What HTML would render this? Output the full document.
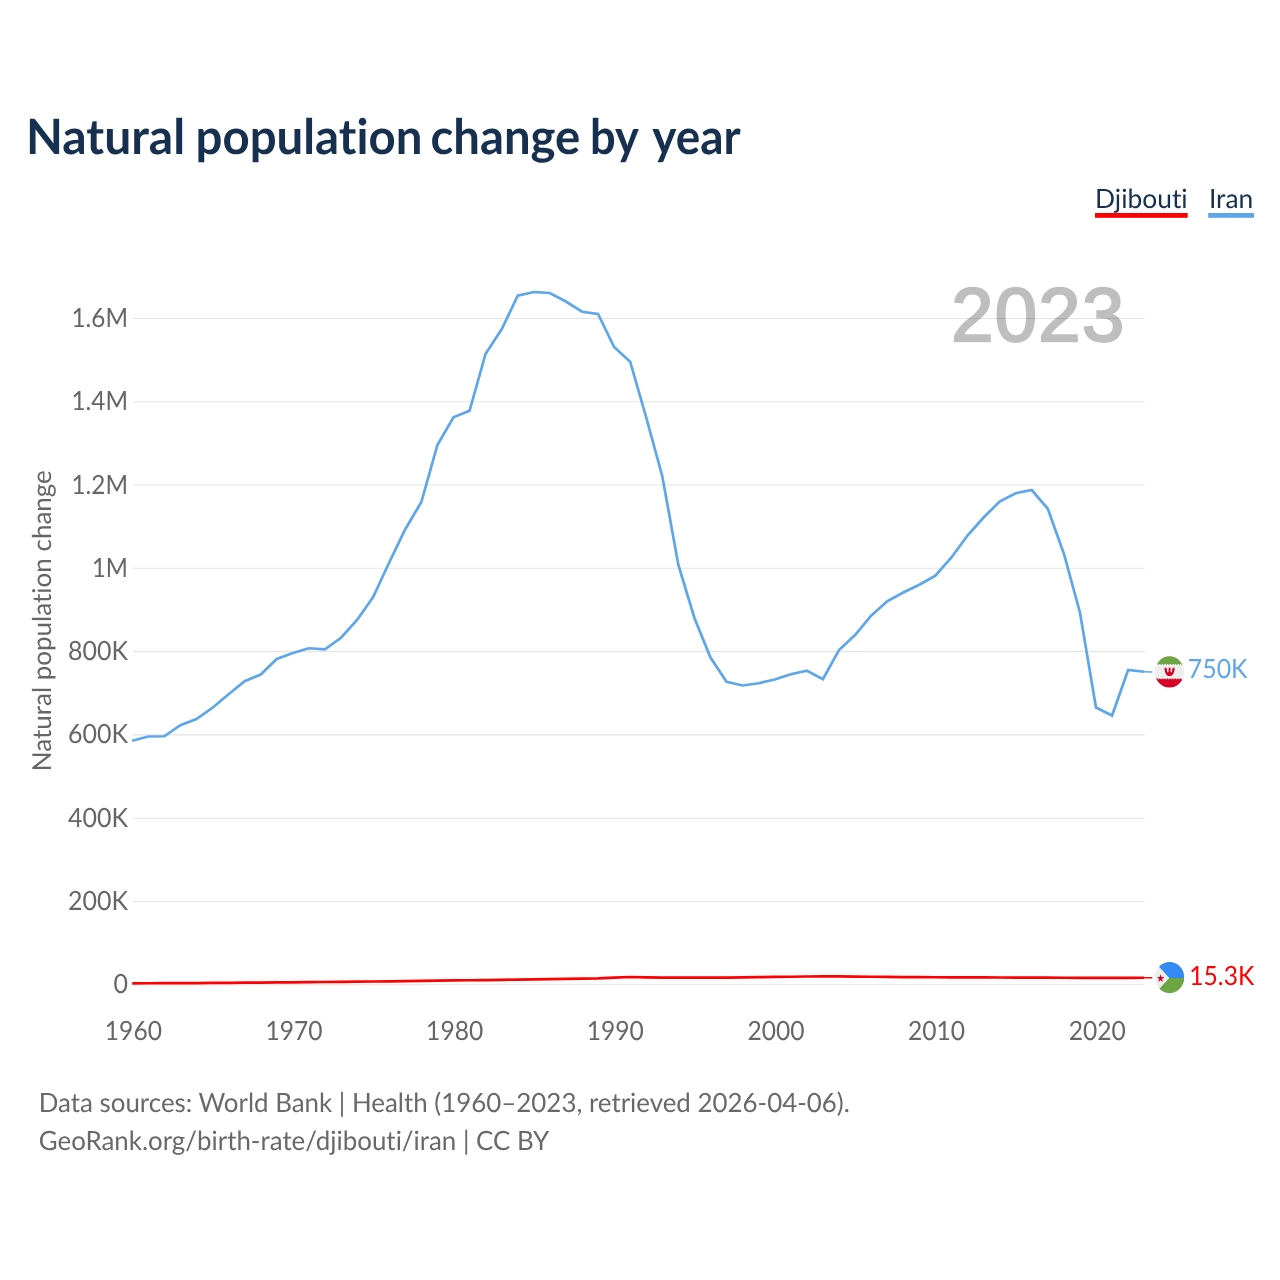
<!DOCTYPE html>
<html lang="en">
<head>
<meta charset="utf-8">
<title>Natural population change by year</title>
<style>
html,body{margin:0;padding:0;background:#fff;}
body{width:1280px;height:1280px;overflow:hidden;font-family:Lato,"Liberation Sans",sans-serif;}
svg{display:block;}
svg text{font-family:Lato,"Liberation Sans",sans-serif;font-variant-ligatures:none;text-rendering:geometricPrecision;}
.title{font-size:47px;font-weight:700;fill:#17304f;}
.tick{font-size:25px;fill:#666666;}
.grid line{stroke:#e5e5e5;stroke-width:1.05;}
.legend{font-size:26.4px;fill:#17304f;}
.src{font-size:25.9px;fill:#696969;}
.year{font-family:"Liberation Sans",sans-serif;font-weight:400;font-size:76px;letter-spacing:1.3px;fill:#000;stroke:#000;stroke-width:2.3px;stroke-linejoin:miter;opacity:.25;}
.ylab{font-size:26px;fill:#666666;}
.vblue{font-size:24.9px;fill:#5ea6ea;}
.vred{font-size:24.6px;fill:#ff0000;}
.series{fill:none;stroke-width:2.7;stroke-linejoin:miter;stroke-linecap:butt;}
</style>
</head>
<body>
<svg width="1280" height="1280" viewBox="0 0 1280 1280">
<rect width="1280" height="1280" fill="#fff"/>
<!-- title -->
<text id="t1" class="title" textLength="159.2" lengthAdjust="spacingAndGlyphs" transform="translate(25.90 154.00) scale(1 1.039)">Natural</text>
<text id="t2" class="title" textLength="226.9" lengthAdjust="spacingAndGlyphs" transform="translate(195.50 154.00) scale(1 1.039)">population</text>
<text id="t3" class="title" textLength="149.7" lengthAdjust="spacingAndGlyphs" transform="translate(430.60 154.00) scale(1 1.039)">change</text>
<text id="t4" class="title" textLength="48.9" lengthAdjust="spacingAndGlyphs" transform="translate(590.00 154.00) scale(1 1.039)">by</text>
<text id="t5" class="title" textLength="88.3" lengthAdjust="spacingAndGlyphs" transform="translate(652.20 154.00) scale(1 1.039)">year</text>

<!-- legend -->
<text id="t6" class="legend" textLength="92.7" lengthAdjust="spacingAndGlyphs" transform="translate(1095.00 208.00) scale(1 1.0045)">Djibouti</text>
<rect x="1095" y="213" width="92.7" height="4.8" fill="#ff0000"/>
<text id="t7" class="legend" textLength="44.4" lengthAdjust="spacingAndGlyphs" transform="translate(1208.90 208.00) scale(1 1.0045)">Iran</text>
<rect x="1208.2" y="213" width="45.8" height="4.8" fill="#5ea6ea"/>

<!-- gridlines -->
<g class="grid">
<line x1="132.7" x2="1144.7" y1="984.76" y2="984.76"/>
<line x1="132.7" x2="1144.7" y1="901.47" y2="901.47"/>
<line x1="132.7" x2="1144.7" y1="818.18" y2="818.18"/>
<line x1="132.7" x2="1144.7" y1="734.89" y2="734.89"/>
<line x1="132.7" x2="1144.7" y1="651.60" y2="651.60"/>
<line x1="132.7" x2="1144.7" y1="568.31" y2="568.31"/>
<line x1="132.7" x2="1144.7" y1="485.02" y2="485.02"/>
<line x1="132.7" x2="1144.7" y1="401.73" y2="401.73"/>
<line x1="132.7" x2="1144.7" y1="318.44" y2="318.44"/>
</g>
<!-- axis ticks -->
<text id="t8" class="tick" text-anchor="end" textLength="14.5" lengthAdjust="spacingAndGlyphs" transform="translate(128.00 993.00) scale(1 1.0607)">0</text>
<text id="t9" class="tick" text-anchor="end" textLength="60.1" lengthAdjust="spacingAndGlyphs" transform="translate(128.00 910.00) scale(1 1.0607)">200K</text>
<text id="t10" class="tick" text-anchor="end" textLength="60.1" lengthAdjust="spacingAndGlyphs" transform="translate(128.00 827.00) scale(1 1.0607)">400K</text>
<text id="t11" class="tick" text-anchor="end" textLength="60.1" lengthAdjust="spacingAndGlyphs" transform="translate(128.00 743.00) scale(1 1.0607)">600K</text>
<text id="t12" class="tick" text-anchor="end" textLength="60.1" lengthAdjust="spacingAndGlyphs" transform="translate(128.00 660.00) scale(1 1.0607)">800K</text>
<text id="t13" class="tick" text-anchor="end" textLength="36.0" lengthAdjust="spacingAndGlyphs" transform="translate(128.00 577.00) scale(1 1.0607)">1M</text>
<text id="t14" class="tick" text-anchor="end" textLength="56.5" lengthAdjust="spacingAndGlyphs" transform="translate(128.00 494.00) scale(1 1.0607)">1.2M</text>
<text id="t15" class="tick" text-anchor="end" textLength="56.5" lengthAdjust="spacingAndGlyphs" transform="translate(128.00 410.00) scale(1 1.0607)">1.4M</text>
<text id="t16" class="tick" text-anchor="end" textLength="56.5" lengthAdjust="spacingAndGlyphs" transform="translate(128.00 327.00) scale(1 1.0607)">1.6M</text>
<text id="t17" class="tick" text-anchor="middle" textLength="57.1" lengthAdjust="spacingAndGlyphs" transform="translate(133.40 1040.00) scale(1 1.0607)">1960</text>
<text id="t18" class="tick" text-anchor="middle" textLength="57.1" lengthAdjust="spacingAndGlyphs" transform="translate(294.03 1040.00) scale(1 1.0607)">1970</text>
<text id="t19" class="tick" text-anchor="middle" textLength="57.1" lengthAdjust="spacingAndGlyphs" transform="translate(454.67 1040.00) scale(1 1.0607)">1980</text>
<text id="t20" class="tick" text-anchor="middle" textLength="57.1" lengthAdjust="spacingAndGlyphs" transform="translate(615.30 1040.00) scale(1 1.0607)">1990</text>
<text id="t21" class="tick" text-anchor="middle" textLength="57.1" lengthAdjust="spacingAndGlyphs" transform="translate(775.94 1040.00) scale(1 1.0607)">2000</text>
<text id="t22" class="tick" text-anchor="middle" textLength="57.1" lengthAdjust="spacingAndGlyphs" transform="translate(936.57 1040.00) scale(1 1.0607)">2010</text>
<text id="t23" class="tick" text-anchor="middle" textLength="57.1" lengthAdjust="spacingAndGlyphs" transform="translate(1097.21 1040.00) scale(1 1.0607)">2020</text>

<text id="t24" class="ylab" text-anchor="middle" textLength="301.1" lengthAdjust="spacingAndGlyphs" transform="translate(51 620.7) rotate(-90)">Natural population change</text>

<!-- year watermark -->
<text id="t25" class="year" text-anchor="end" textLength="174.3" lengthAdjust="spacingAndGlyphs" transform="translate(1125.50 341.40) scale(1 1.0)">2023</text>

<!-- series -->
<path class="series" d="M132.20,740.75 L148.26,736.50 L164.33,736.25 L180.39,725.25 L196.45,719.00 L212.52,707.75 L228.58,694.25 L244.64,681.25 L260.71,674.50 L276.77,659.00 L292.83,653.00 L308.90,648.25 L324.96,649.25 L341.03,637.75 L357.09,620.00 L373.15,597.00 L389.22,562.50 L405.28,529.25 L421.34,502.00 L437.41,445.00 L453.47,417.25 L469.53,410.75 L485.60,353.75 L501.66,329.25 L517.72,295.75 L533.79,292.00 L549.85,293.00 L565.91,301.50 L581.98,311.75 L598.04,314.00 L614.10,347.00 L630.17,361.75 L646.23,417.50 L662.30,476.25 L678.36,565.00 L694.42,618.00 L710.49,657.50 L726.55,681.75 L742.61,685.50 L758.68,683.25 L774.74,679.50 L790.80,674.25 L806.87,670.75 L822.93,679.25 L838.99,650.00 L855.06,635.00 L871.12,615.75 L887.18,601.25 L903.25,592.50 L919.31,584.75 L935.37,575.75 L951.44,557.50 L967.50,535.50 L983.57,517.50 L999.63,501.50 L1015.69,493.25 L1031.76,490.00 L1047.82,508.75 L1063.88,553.75 L1079.95,612.50 L1096.01,707.50 L1112.07,715.50 L1128.14,670.00 L1144.20,671.75" stroke="#5ea6ea"/>
<path class="series" d="M132.20,983.35 L148.26,983.27 L164.33,983.19 L180.39,983.11 L196.45,983.03 L212.52,982.95 L228.58,982.82 L244.64,982.69 L260.71,982.56 L276.77,982.43 L292.83,982.30 L308.90,982.14 L324.96,981.98 L341.03,981.82 L357.09,981.66 L373.15,981.50 L389.22,981.29 L405.28,981.08 L421.34,980.87 L437.41,980.66 L453.47,980.45 L469.53,980.24 L485.60,980.03 L501.66,979.82 L517.72,979.61 L533.79,979.40 L549.85,979.15 L565.91,978.90 L581.98,978.65 L598.04,978.40 L614.10,977.70 L630.17,977.00 L646.23,977.35 L662.30,977.70 L678.36,977.68 L694.42,977.65 L710.49,977.62 L726.55,977.60 L742.61,977.38 L758.68,977.17 L774.74,976.95 L790.80,976.73 L806.87,976.52 L822.93,976.30 L838.99,976.45 L855.06,976.60 L871.12,976.75 L887.18,976.90 L903.25,977.05 L919.31,977.20 L935.37,977.26 L951.44,977.32 L967.50,977.38 L983.57,977.43 L999.63,977.49 L1015.69,977.55 L1031.76,977.61 L1047.82,977.67 L1063.88,977.73 L1079.95,977.78 L1096.01,977.84 L1112.07,977.90 L1128.14,977.83 L1144.20,977.75" stroke="#ff0000"/>
<!-- connectors -->
<line x1="1144.2" x2="1152.3" y1="671.75" y2="672" stroke="#5ea6ea" stroke-width="1.5"/>
<line x1="1144.2" x2="1152.3" y1="977.75" y2="977.8" stroke="#ff0000" stroke-width="1.5"/>
<!-- flags -->
<defs>
<clipPath id="cIR"><ellipse cx="1169.5" cy="671.9" rx="14.6" ry="15.55"/></clipPath>
<clipPath id="cDJ"><ellipse cx="1169.6" cy="977.6" rx="14.6" ry="15.55"/></clipPath>
</defs>
<g clip-path="url(#cIR)">
<rect x="1150" y="650" width="40" height="45" fill="#eeeeee"/>
<polygon points="1150,650 1190,650 1190,664.5 1181.90,665.10 1180.60,663.80 1179.30,665.10 1178.00,663.80 1176.70,665.10 1175.40,663.80 1174.10,665.10 1172.80,663.80 1171.50,665.10 1170.20,663.80 1168.90,665.10 1167.60,663.80 1166.30,665.10 1165.00,663.80 1163.70,665.10 1162.40,663.80 1161.10,665.10 1159.80,663.80 1158.50,665.10 1157.20,663.80 1150,664.5" fill="#6da544"/>
<polygon points="1150,695 1190,695 1190,678.75 1181.90,679.45 1180.60,678.15 1179.30,679.45 1178.00,678.15 1176.70,679.45 1175.40,678.15 1174.10,679.45 1172.80,678.15 1171.50,679.45 1170.20,678.15 1168.90,679.45 1167.60,678.15 1166.30,679.45 1165.00,678.15 1163.70,679.45 1162.40,678.15 1161.10,679.45 1159.80,678.15 1158.50,679.45 1157.20,678.15 1150,678.75" fill="#d80027"/>
<path d="M1164.5 667.7 H1174.6 C1174.7 671.6 1173.2 676.1 1169.55 676.1 C1165.9 676.1 1164.4 671.6 1164.5 667.7Z" fill="#d80027"/>
<path d="M1166.4 667 L1167.2 671.7 Q1167.85 672.9 1168.5 671.7 L1168.65 667Z M1172.7 667 L1171.9 671.7 Q1171.25 672.9 1170.6 671.7 L1170.45 667Z" fill="#eeeeee"/>
</g>

<g clip-path="url(#cDJ)">
<rect x="1150" y="950" width="40" height="55" fill="#eeeeee"/>
<polygon points="1153.00,960.05 1169.20,977.90 1190,977.90 1190,950 1153.00,950" fill="#338af3"/>
<polygon points="1153.00,995.75 1169.20,977.90 1190,977.90 1190,1005 1153.00,1005" fill="#6da544"/>
<polygon points="1160.60,974.14 1161.51,977.05 1164.26,977.12 1162.07,978.99 1162.86,981.94 1160.60,980.19 1158.34,981.94 1159.13,978.99 1156.94,977.12 1159.69,977.05" fill="#d80027"/>
</g>

<!-- value labels -->
<text id="t26" class="vblue" textLength="59.8" lengthAdjust="spacingAndGlyphs" transform="translate(1187.80 678.00) scale(1 1.065)">750K</text>
<text id="t27" class="vred" textLength="64.9" lengthAdjust="spacingAndGlyphs" transform="translate(1189.30 985.00) scale(1 1.078)">15.3K</text>

<!-- footer -->
<text id="t28" class="src" textLength="811.2" lengthAdjust="spacingAndGlyphs" transform="translate(38.70 1112.00) scale(1 1.0239)">Data sources: World Bank | Health (1960–2023, retrieved 2026-04-06).</text>
<text id="t29" class="src" textLength="510.5" lengthAdjust="spacingAndGlyphs" transform="translate(38.70 1150.00) scale(1 1.0239)">GeoRank.org/birth-rate/djibouti/iran | CC BY</text>

</svg>
</body>
</html>
